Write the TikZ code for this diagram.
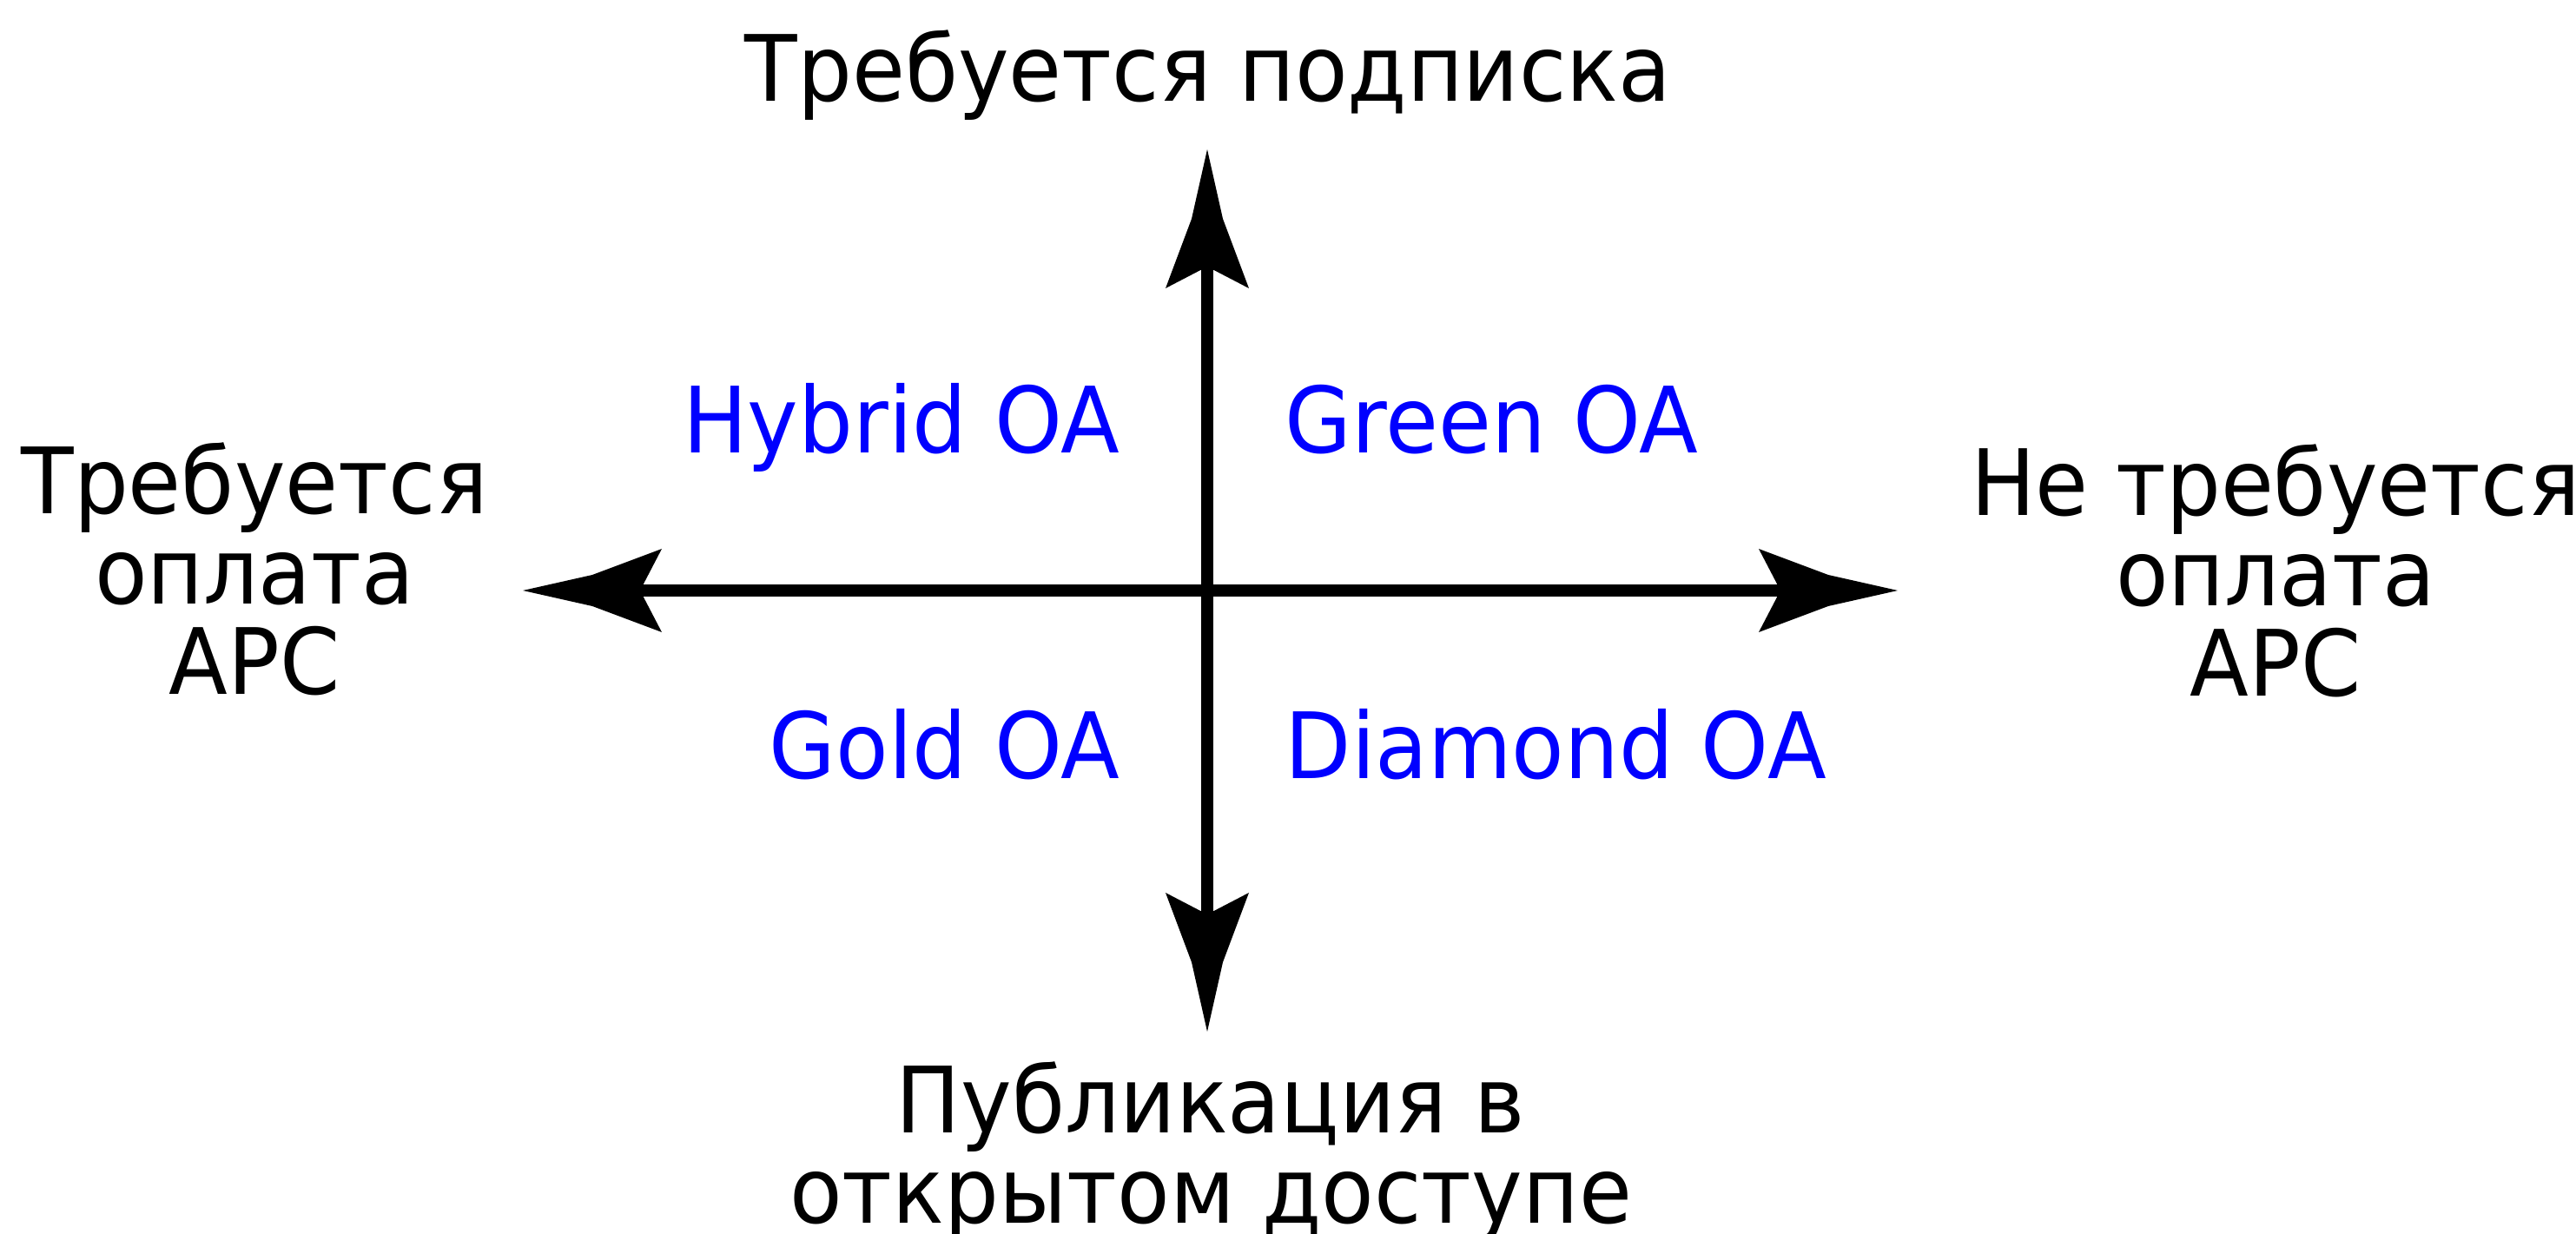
\documentclass[tikz,border=0pt]{standalone}
\usepackage{fontspec}
\setmainfont{DejaVu Sans}[FakeStretch=0.94]
\usetikzlibrary{arrows.meta}
\pgfdeclarearrow{
  name=Kite,
  setup code={
    \pgfarrowssettipend{0pt}
    \pgfarrowssetlineend{-1.3cm}
    \pgfarrowssetbackend{-1.6cm}
    \pgfarrowsupperhullpoint{0pt}{0pt}
    \pgfarrowsupperhullpoint{-1.6cm}{0.48cm}
  },
  drawing code={
    \pgfpathmoveto{\pgfpoint{0pt}{0pt}}
    \pgfpathlineto{\pgfpoint{-0.8cm}{0.18cm}}
    \pgfpathlineto{\pgfpoint{-1.6cm}{0.48cm}}
    \pgfpathlineto{\pgfpoint{-1.35cm}{0pt}}
    \pgfpathlineto{\pgfpoint{-1.6cm}{-0.48cm}}
    \pgfpathlineto{\pgfpoint{-0.8cm}{-0.18cm}}
    \pgfpathclose
    \pgfusepathqfill
  }
}
\begin{document}
\begin{tikzpicture}[x=1cm,y=1cm,
  axis/.style={line width=0.14cm,-{Kite[]}},
  lbl/.style={font=\fontsize{30}{29.6}\selectfont,align=center,inner sep=0pt},
  oa/.style={font=\fontsize{30}{29.6}\selectfont,text=blue,inner sep=0pt}]
\useasboundingbox (0,0) rectangle (29.66,-14.21);
\coordinate (O) at (13.90,-6.80);
\coordinate (N) at (13.90,-1.72);
\coordinate (S) at (13.90,-11.88);
\coordinate (W) at (6.02,-6.80);
\coordinate (E) at (21.85,-6.80);
\draw[axis] (O) -- (N);
\draw[axis] (O) -- (S);
\draw[axis] (O) -- (W);
\draw[axis] (O) -- (E);
\node[lbl,anchor=base] (top) at (13.91,-1.17) {Требуется подписка};
\node[lbl,anchor=base] (left) at (2.93,-8.00) {Требуется\\оплата\\APC};
\node[lbl,anchor=base] (right) at (26.20,-8.02) {Не требуется\\оплата\\APC};
\node[lbl,anchor=base] (bottom) at (13.94,-14.09) {Публикация в\\открытом доступе};
\node[oa,anchor=base east] (hybrid) at (12.90,-5.22) {Hybrid OA};
\node[oa,anchor=base west] (green) at (14.79,-5.22) {Green OA};
\node[oa,anchor=base east] (gold) at (12.90,-8.97) {Gold OA};
\node[oa,anchor=base west] (diamond) at (14.79,-8.97) {Diamond OA};
\end{tikzpicture}
\end{document}
